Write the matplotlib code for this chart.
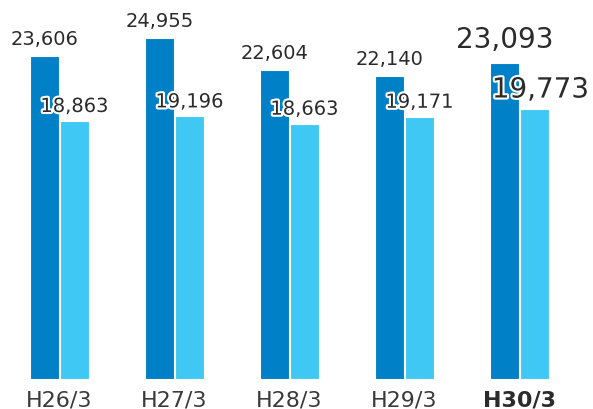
import numpy as np
import matplotlib.pyplot as plt
import matplotlib.patheffects as pe

years = ["H26/3", "H27/3", "H28/3", "H29/3", "H30/3"]
dark_vals = [23606, 24955, 22604, 22140, 23093]
light_vals = [18863, 19196, 18663, 19171, 19773]

dark_col = "#0080C6"
light_col = "#40C8F4"
txt_col = "#2b2b2b"

fig = plt.figure(figsize=(5.93, 4.10), dpi=100)
ax = fig.add_axes([0, 30 / 410, 1, 380 / 410])

x = np.arange(len(years))
w = 0.25
off = 0.13
ax.bar(x - off, dark_vals, w, color=dark_col, edgecolor="white", linewidth=0.8)
ax.bar(x + off, light_vals, w, color=light_col, edgecolor="white", linewidth=0.8)

ax.set_xlim(-0.517, 4.639)
ax.set_ylim(0, 27780)

for i in range(len(years)):
    last = i == len(years) - 1
    fs = 20 if last else 14
    ax.annotate(f"{dark_vals[i]:,}", (x[i] - off, dark_vals[i]),
                xytext=(0, 16 if last else 12), textcoords="offset pixels",
                ha="center", va="baseline", fontsize=fs, color=txt_col)
    t = ax.annotate(f"{light_vals[i]:,}", (x[i] + off, light_vals[i]),
                    xytext=(6 if last else 0, 11 if last else 9), textcoords="offset pixels",
                    ha="center", va="baseline", fontsize=fs, color=txt_col)
    t.set_path_effects([pe.withStroke(linewidth=3, foreground="white")])

ax.set_xticks(x)
ax.set_xticklabels(years, fontsize=16, color="#3a3a3a")
ax.get_xticklabels()[-1].set_fontweight("bold")
ax.get_xticklabels()[-1].set_color(txt_col)
ax.tick_params(axis="x", length=0, pad=7.5)
ax.set_yticks([])
for s in ax.spines.values():
    s.set_visible(False)

fig.savefig("out.png", dpi=100)
